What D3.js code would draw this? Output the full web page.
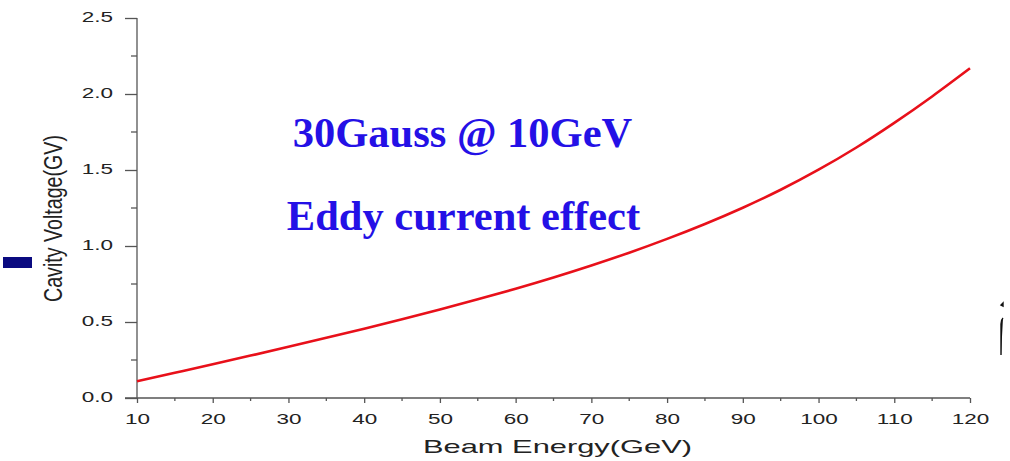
<!DOCTYPE html>
<html>
<head>
<meta charset="utf-8">
<script src="https://cdn.jsdelivr.net/npm/d3@7/dist/d3.min.js"></script>
<style>
  html, body { margin: 0; padding: 0; background: #fff; }
  svg { display: block; }
</style>
</head>
<body>
<svg id="chart" width="1010" height="461"></svg>
<script>
// Beam energy (GeV) and required cavity voltage (GV)
const beamEnergy = [10, 15, 20, 25, 30, 35, 40, 45, 50, 55, 60, 65, 70, 75, 80, 85, 90, 95, 100, 105, 110, 115, 120];
const cavityVoltage = [0.110, 0.166, 0.222, 0.279, 0.337, 0.396, 0.456, 0.518, 0.582, 0.649, 0.719, 0.793, 0.872, 0.956, 1.047, 1.145, 1.252, 1.370, 1.502, 1.648, 1.810, 1.984, 2.169];
const xMajorTicks = [10, 20, 30, 40, 50, 60, 70, 80, 90, 100, 110, 120];
const xMinorTicks = [15, 25, 35, 45, 55, 65, 75, 85, 95, 105, 115];
const yMajorTicks = [0.0, 0.5, 1.0, 1.5, 2.0, 2.5];
const yMinorTicks = [0.25, 0.75, 1.25, 1.75, 2.25];
const titleLines = ["30Gauss @ 10GeV", "Eddy current effect"];

const svg = d3.select("#chart");
const plotLeft = 137, plotRight = 970, plotTop = 18, plotBottom = 398;

const x = d3.scaleLinear().domain([10, 120]).range([plotLeft, plotRight]);
const y = d3.scaleLinear().domain([0, 2.5]).range([plotBottom, plotTop]);

const axisColor = "#555";
const labelColor = "#222";
const tickFont = "Liberation Sans, Arial, sans-serif";
const stretch = 1.5; // tick labels are drawn wide

// x axis: major ticks with labels, minor ticks in between
const gx = svg.append("g").attr("transform", `translate(0,${plotBottom})`);
gx.call(d3.axisBottom(x).tickValues(xMajorTicks).tickSize(5).tickPadding(10).tickFormat(d3.format("d")));
gx.call(g => g.select(".domain").remove());
gx.append("line").attr("x1", plotLeft - 12).attr("x2", plotRight).attr("stroke", axisColor).attr("stroke-width", 1.3);
gx.selectAll(".tick line").attr("stroke", axisColor).attr("stroke-width", 1.3);
gx.selectAll(".tick text")
  .attr("fill", labelColor).attr("font-family", tickFont).attr("font-size", 15)
  .attr("transform", `scale(${stretch},1)`);
gx.selectAll(".minor").data(xMinorTicks).join("line").attr("class", "minor")
  .attr("x1", d => x(d)).attr("x2", d => x(d)).attr("y1", 0).attr("y2", 3)
  .attr("stroke", axisColor).attr("stroke-width", 1.3);

// y axis
const gy = svg.append("g").attr("transform", `translate(${plotLeft},0)`);
gy.call(d3.axisLeft(y).tickValues(yMajorTicks).tickSize(12).tickPadding(10).tickFormat(d3.format(".1f")));
gy.call(g => g.select(".domain").remove());
gy.append("line").attr("y1", plotTop).attr("y2", plotBottom).attr("stroke", axisColor).attr("stroke-width", 1.3);
gy.selectAll(".tick line").attr("stroke", axisColor).attr("stroke-width", 1.3);
gy.selectAll(".tick text")
  .attr("fill", labelColor).attr("font-family", tickFont).attr("font-size", 15)
  .attr("x", -24 / stretch).attr("dy", "0.25em")
  .attr("transform", `scale(${stretch},1)`);
gy.selectAll(".minor").data(yMinorTicks).join("line").attr("class", "minor")
  .attr("x1", -6).attr("x2", 0).attr("y1", d => y(d)).attr("y2", d => y(d))
  .attr("stroke", axisColor).attr("stroke-width", 1.3);

// axis titles
svg.append("text")
  .attr("x", 557.5).attr("y", 453)
  .attr("text-anchor", "middle")
  .attr("font-family", tickFont).attr("font-size", 18.5)
  .attr("textLength", 269).attr("lengthAdjust", "spacingAndGlyphs")
  .attr("fill", labelColor)
  .text("Beam Energy(GeV)");

svg.append("text")
  .attr("transform", "translate(62,218.5) rotate(-90)")
  .attr("text-anchor", "middle")
  .attr("font-family", tickFont).attr("font-size", 26)
  .attr("textLength", 167).attr("lengthAdjust", "spacingAndGlyphs")
  .attr("fill", labelColor)
  .text("Cavity Voltage(GV)");

// small navy marker to the left of the y title
svg.append("rect").attr("x", 3).attr("y", 257).attr("width", 29).attr("height", 11).attr("fill", "#0a0a80");

// voltage curve
const line = d3.line().x((d, i) => x(beamEnergy[i])).y(d => y(d)).curve(d3.curveNatural);
svg.append("path")
  .datum(cavityVoltage)
  .attr("d", line)
  .attr("fill", "none")
  .attr("stroke", "#e8101a")
  .attr("stroke-width", 2.6);

// annotation text
const titleFont = "Liberation Serif, Times New Roman, serif";
svg.append("text")
  .attr("x", 462.5).attr("y", 147)
  .attr("text-anchor", "middle")
  .attr("font-family", titleFont).attr("font-weight", "bold").attr("font-size", 42.5)
  .attr("fill", "#2410e6")
  .text(titleLines[0]);
svg.append("text")
  .attr("x", 463.5).attr("y", 230)
  .attr("text-anchor", "middle")
  .attr("font-family", titleFont).attr("font-weight", "bold").attr("font-size", 42.5)
  .attr("fill", "#2410e6")
  .text(titleLines[1]);

// glyph fragment at the right edge
svg.append("path")
  .attr("d", "M1003,303 l-2,2 l2,1 z M1003,318 q-2,2 -2,6 l0,31")
  .attr("fill", "#111").attr("stroke", "#111").attr("stroke-width", 1.4);
</script>
</body>
</html>
